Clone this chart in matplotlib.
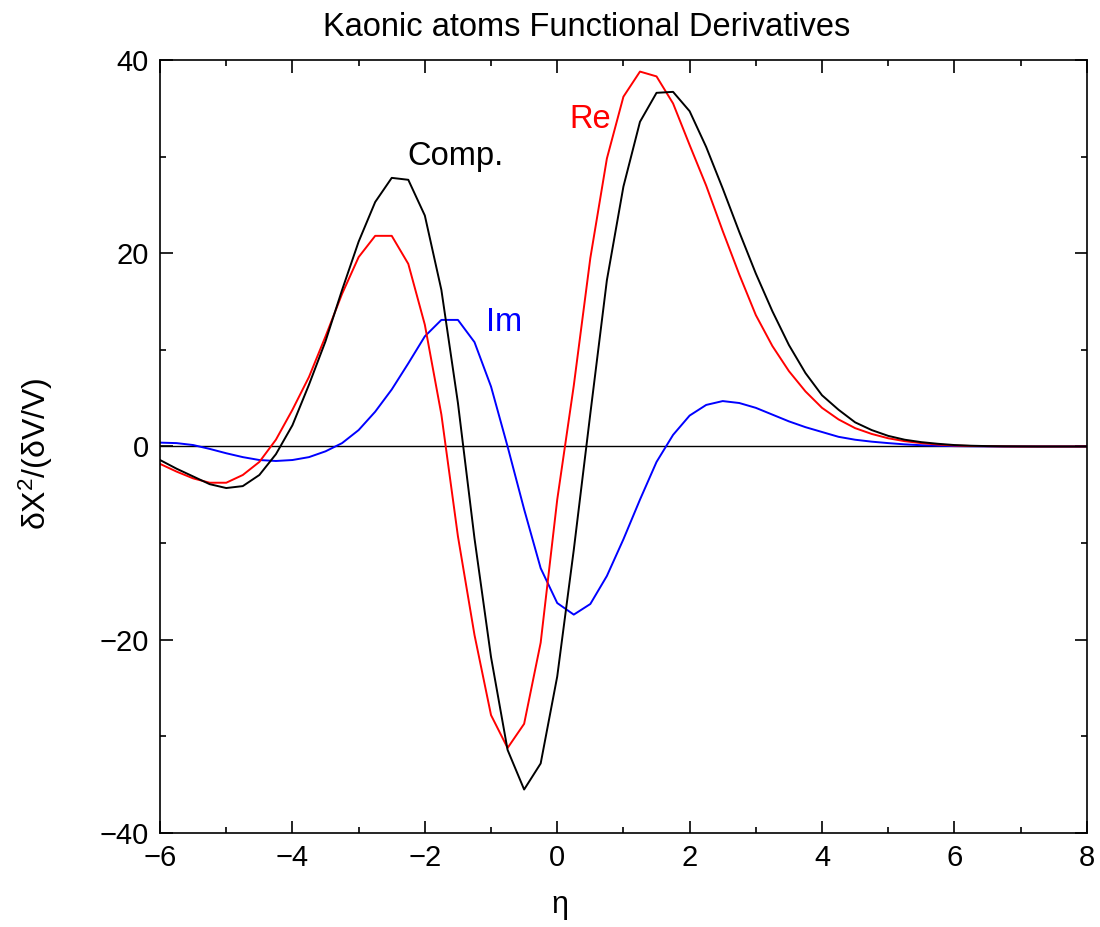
import matplotlib
matplotlib.use("Agg")
import matplotlib.pyplot as plt
import matplotlib.ticker as mticker
import numpy as np

plt.rcParams['font.family'] = ['Liberation Sans', 'DejaVu Sans']
plt.rcParams['mathtext.default'] = 'regular'

# eta grid, step 0.25 from -6 to 8
eta = np.arange(-6.0, 8.001, 0.25)

comp = [-1.4, -2.3, -3.1, -3.9, -4.3, -4.1, -2.95, -0.8, 2.2, 6.4,
        10.9, 16.2, 21.2, 25.3, 27.8, 27.6, 23.9, 16.2, 4.5, -9.5,
        -21.8, -31.4, -35.5, -32.8, -23.8, -10.7, 3.4, 17.2, 26.9, 33.6,
        36.6, 36.7, 34.7, 31.0, 26.7, 22.2, 17.9, 14.0, 10.5, 7.6,
        5.3, 3.8, 2.5, 1.7, 1.1, 0.7, 0.45, 0.28, 0.15, 0.08,
        0.04, 0.02, 0.01, 0.0, 0.0, 0.0, 0.0]

re = [-1.8, -2.6, -3.3, -3.75, -3.75, -2.95, -1.6, 0.7, 3.8, 7.2,
      11.4, 15.8, 19.6, 21.8, 21.8, 18.9, 12.6, 3.3, -9.3, -19.5,
      -27.8, -31.2, -28.7, -20.3, -5.5, 6.3, 19.5, 29.8, 36.2, 38.8,
      38.3, 35.5, 31.2, 27.0, 22.3, 17.8, 13.6, 10.4, 7.8, 5.7,
      4.0, 2.8, 1.9, 1.3, 0.85, 0.55, 0.35, 0.2, 0.1, 0.05,
      0.03, 0.01, 0.0, 0.0, 0.0, 0.0, 0.0]

im = [0.4, 0.35, 0.15, -0.25, -0.7, -1.1, -1.4, -1.5, -1.4, -1.1,
      -0.5, 0.35, 1.7, 3.6, 5.9, 8.6, 11.4, 13.1, 13.1, 10.8,
      6.2, 0.0, -6.5, -12.6, -16.2, -17.4, -16.3, -13.4, -9.6, -5.5,
      -1.6, 1.2, 3.2, 4.3, 4.7, 4.5, 4.0, 3.3, 2.6, 2.0,
      1.5, 1.0, 0.7, 0.5, 0.35, 0.22, 0.13, 0.08, 0.04, 0.02,
      0.01, 0.0, 0.0, 0.0, 0.0, 0.0, 0.0]

fig = plt.figure(figsize=(11, 9.27), dpi=100)
ax = fig.add_axes([0.1455, 0.1014, 0.8425, 0.8339])

ax.axhline(0, color='black', lw=1.0)
ax.plot(eta, im, color='blue', lw=1.4)
ax.plot(eta, re, color='red', lw=1.4)
ax.plot(eta, comp, color='black', lw=1.4)

ax.text(-2.26, 29.1, "Comp.", color='black', fontsize=23.5)
ax.text(0.18, 33.0, "Re", color='red', fontsize=23.5)
ax.text(-1.08, 12.0, "Im", color='blue', fontsize=23.5)

ax.set_xlim(-6, 8)
ax.set_ylim(-40, 40)
ax.xaxis.set_major_locator(mticker.MultipleLocator(2))
ax.xaxis.set_minor_locator(mticker.MultipleLocator(1))
ax.yaxis.set_major_locator(mticker.MultipleLocator(20))
ax.yaxis.set_minor_locator(mticker.MultipleLocator(10))
ax.tick_params(which='both', direction='in', top=True, right=True,
               labelsize=21, width=1.2)
ax.tick_params(which='major', length=9, pad=8)
ax.tick_params(which='minor', length=4.5)
for s in ax.spines.values():
    s.set_linewidth(1.2)

# title and axis labels placed like the original (not centred on the axes)
fig.text(587 / 1100, 1 - 36 / 927, "Kaonic atoms Functional Derivatives",
         fontsize=23.5, ha='center', va='baseline')
fig.text(560 / 1100, 1 - 905 / 927, "η", fontsize=22, ha='center', va='center')
fig.text(36 / 1100, 1 - 454 / 927, "δX$^2$/(δV/V)", fontsize=23,
         rotation=90, ha='center', va='center')

fig.savefig("out.png", dpi=100)
